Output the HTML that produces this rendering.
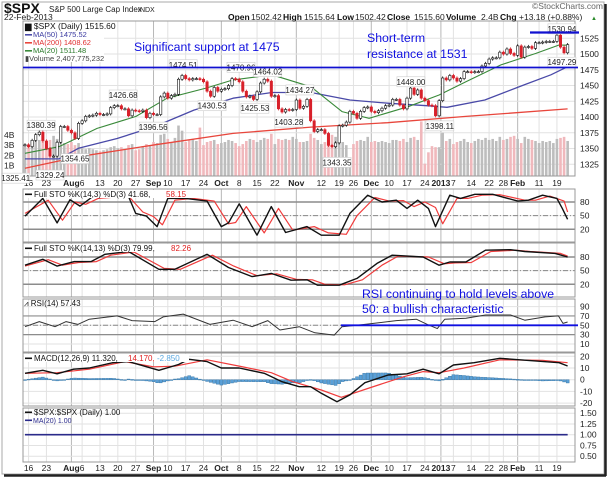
<!DOCTYPE html>
<html><head><meta charset="utf-8"><style>
body{margin:0;background:#fff}
svg{display:block;font-family:"Liberation Sans",sans-serif}
</style></head><body>
<svg id="c" width="609" height="479" viewBox="0 0 609 479" xmlns="http://www.w3.org/2000/svg">
<rect x="0" y="0" width="609" height="479" fill="#fff"/>
<g id="grid"></g><g id="marks"></g><g id="over"></g>
</svg>
<script>
// ---------- data ----------
const closes=[1356,
1353,1363,1372,1376,1362, 1350,1338,1338,1360,1385, 1385,1379,1375,1366,1390,
1394,1401,1402,1403,1406, 1404,1404,1405,1415,1418, 1418,1413,1413,1402,1411,
1410,1409,1411,1399,1406, 1404,1404,1432,1438,
1430,1434,1436,1460,1466, 1461,1459,1461,1461,1460, 1456,1441,1433,1447,1441,
1444,1445,1450,1461,1460, 1456,1441,1432,1433,1428, 1440,1454,1460,1457,1433,
1434,1413,1408,1412,1411, 1412, 1427,1414,
1417,1428,1394,1377,1380, 1380,1374,1355,1353,1359, 1386,1387,1392,1409,
1406,1398,1409,1415,1416, 1409,1407,1410,1414,1418, 1419,1428,1428,1419,1413,
1430,1446,1436,1443,1430, 1426,1419,1418,1402, 1426, 1462,1459,1466,
1462,1457,1461,1472,1472, 1471,1472,1472,1481,1485, 1492,1494,1494,1503,
1500,1508,1501,1498,1513, 1495,1511,1512,1509,1518, 1518,1519,1520,1520,1520,
1530,1511,1502,1515];
const volumes=[3.0,
2.9,3.2,3.4,3.5,3.3, 3.1,3.5,3.9,3.6,3.7, 3.2,3.1,3.3,3.0,3.2,
2.7,2.6,2.7,2.6,2.5, 2.4,2.5,2.6,2.8,2.9, 2.7,2.8,2.6,3.0,3.1,
2.5,2.6,2.9,3.1,3.0, 3.3,3.2,4.0,4.1,
3.6,3.3,3.7,4.9,4.4, 3.3,3.5,3.6,3.4,4.7, 3.0,3.3,3.4,3.5,3.1,
3.2,3.3,3.5,3.4,3.2, 2.9,3.1,3.4,3.6,3.5, 3.3,3.5,3.7,3.6,4.1,
3.1,3.6,3.5,3.6,3.5, 3.8, 3.6,3.3,
3.3,3.4,4.1,3.7,3.5, 3.1,3.3,3.8,4.0,3.8, 3.5,3.3,3.0,1.4,
3.1,3.4,3.5,3.4,3.8, 3.3,3.4,3.3,3.4,3.3, 3.2,3.5,3.5,3.4,3.6,
3.3,3.7,3.8,3.5,5.3, 1.2,2.3,2.9,2.8, 2.8, 4.2,3.4,3.6,
3.1,3.3,3.4,3.6,3.3, 3.2,3.4,3.6,3.5,3.7, 3.5,3.6,3.4,3.8,
3.5,3.6,3.8,3.9,3.6, 3.2,3.8,3.6,3.5,3.4, 3.2,3.4,3.3,3.4,3.2,
3.6,3.7,3.8,3.4];
const ma50Idx=[0,9.5,15,25.8,36.4,47.3,58.3,69.2,80.1,91,101.6,112.5,118.2,128.8,139.8,147.3,152];
const ma50Val=[1333.5,1333.5,1350.4,1366,1385,1411,1430,1439,1439,1427,1422,1418,1415.5,1427,1451,1467,1480];
const ma200Idx=[0,15,36.4,58.3,80.1,101.6,123.5,152];
const ma200Val=[1318.6,1337,1356,1374,1384,1391,1401,1413];
const ma20Idx=[0,9.5,20.2,31.1,39.8,50.7,58.3,69.2,80.1,88.8,96.4,107.3,116,123.5,133.3,143.1,149.6,152];
const ma20Val=[1342.5,1353,1382,1401,1430,1446,1459,1467,1448,1408.6,1398,1416.5,1435,1456,1482.7,1501,1514.4,1514];
const priceTicks=[1525,1500,1475,1450,1425,1400,1375,1350,1325];
const volTicks=[1,2,3,4];
const annLabels=["1380.39","1329.24","1325.41","1354.65","1426.68","1396.56","1474.51","1430.53","1470.96","1425.53","1464.02","1434.27","1403.28","1343.35","1448.00","1398.11","1530.94","1497.29"];
const annIdx=[4.5,7,-2.6,14,27.5,35.9,44.3,52.4,60.5,64.4,68,77,73.9,87.4,108.1,116.2,150.4,150.4];
const annVal=[1387,1308,1303,1334,1435,1384,1483,1418,1479,1414,1472,1443,1392,1328,1456,1386,1540,1487];
const stoKIdx=[0,5,9,12.6,15.4,19,22,25,29,31,34,37,40,45,51,55,57,60,65,69,73,79,83,88,91,96,100,104,107,110,113,115,119,122,126,131,138,141,145,149,150.5,152];
const stoKVal=[49,88,34,85,71,92,95,95,92,55,49,26,88,88,82,26,34,76,7,70,13,26,7,7,55,95,80,84,66,84,66,26,95,88,97,97,82,84,95,88,66,42];
const stoDIdx=[0,6.5,10.5,14,17,20.5,29,33,36,38.5,42,47,53,57,59,62,67,71,75,81,85,90,93,98,102,106,109,112,115,117,121,124,128,133,140,143,147,151,152];
const stoDVal=[55,84,40,80,75,88,93,58,48,30,84,88,82,32,35,70,12,66,18,26,12,9,50,90,82,83,70,80,68,32,88,88,95,96,84,84,93,82,58];
const sto2KIdx=[0,5,9,13.8,18.5,22.4,29,37.5,42,51,57,63.6,69,74.5,79,82,88,93,98.6,102.8,111.5,116,119,123.5,129,136,140,148.5,152];
const sto2KVal=[62,75,60,70,70,86,92,53,53,86,57,37,44,29,30,18,18,33,66,84,80,62,69,69,95,96,92,88,80];
const sto2DIdx=[0,6.5,10.5,15,20,24,30.5,39,43.5,52.5,58.5,65,70.5,76,80.5,84,89.5,94.5,100,104.5,113,117.5,120.5,125,130.5,137.5,141.5,150,152];
const sto2DVal=[60,74,62,68,70,84,91,55,53,84,60,39,43,31,30,20,19,30,62,82,80,65,67,68,92,95,92,88,82];
const rsiIdx=[0,4,8.4,11.5,14.8,18,25.8,30,36.4,38.7,44.3,51.8,58.3,63.6,68,71.4,76.8,81.2,86.6,88.8,95.2,104,109.6,112.7,115.5,117.6,123.5,129,136,140,145.7,149.4,150.7,152];
const rsiVal=[47,58,47,58,52,63,70,60,58,68,74,52,61,47,60,40,47,34,29,47,52,60,63,52,43,63,65,72,72,61,68,70,54,57];
const macdIdx=[0,5,9,13.6,18,24.6,29,37.5,43,46,51,55,60,67,72,76.8,80,83,87.4,91,95.2,101.7,107,111.5,116,120,125.8,133,138.6,149.6,152];
const macdVal=[5.5,8,5,9,10,14.5,15.5,8,13,17.4,15.5,10,10,5.5,-1.7,-6,-6,-11.6,-18.8,-13,-2.6,4,5,9,5,12.6,14.5,18.3,17,14.5,11.7];
const sigIdx=[0,9,18,28,36,42,51,60,69,75,83,88.6,96,106,111.5,116,123,133,145,152];
const sigVal=[5.5,6,9,15.5,11,11.5,17,11.6,6,-1.7,-8.8,-15,-7.5,2.5,6.9,6,10,17,16.6,14.5];
const ratioVal=[1.00,1.00];
const xLabels=["16","23","Aug","6","13","20","27","Sep","10","17","24","Oct","8","15","22","Nov","12","19","26","Dec","10","17","24","2013","7","14","22","28","Feb","11","19"];
const xLabelIdx=[1,6,13,16,21,26,31,36,40,45,50,55,60,65,70,76,83,88,92,97,102,107,112,116.5,120,125,130,134,138,144,149];
const monthLabels=["Aug","Sep","Oct","Nov","Dec","2013","Feb"];

// ---------- helpers ----------
const NS="http://www.w3.org/2000/svg";
const G=document.getElementById('grid'),M=document.getElementById('marks'),O=document.getElementById('over');
function el(t,a,p){const e=document.createElementNS(NS,t);for(const k in a)e.setAttribute(k,a[k]);(p||M).appendChild(e);return e;}
const L=23,R=575;
const X=i=>25+i*3.57;
const yP=p=>38.3+(1525-p)*0.63;
const yV=v=>176-v*10.3;
const panels=[
 {name:'main',top:21,bot:176},
 {name:'sto1',top:189,bot:242,y:v=>229.3-(v-20)*0.455,ticks:[80,50,20]},
 {name:'sto2',top:243,bot:297,y:v=>284.3-(v-20)*0.455,ticks:[80,50,20]},
 {name:'rsi',top:299,bot:352,y:v=>325.3-(v-50)*0.4675,ticks:[90,70,50,30,10]},
 {name:'macd',top:353,bot:406,y:v=>379.7-v*1.17,ticks:[20,10,0,-10,-20]},
 {name:'ratio',top:408,bot:462,y:v=>434.7-(v-1)*43,ticks:[1.5,1.25,1.0,0.75,0.5]}
];
const defs=el('defs',{},document.getElementById('c'));
panels.forEach(p=>{const cp=el('clipPath',{id:'cp-'+p.name},defs);el('rect',{x:L,y:p.top,width:R-L,height:p.bot-p.top},cp);});

panels.forEach(p=>{
  xLabelIdx.forEach((ix,k)=>{
    const g=el('line',{x1:X(ix),x2:X(ix),y1:p.top,y2:p.bot,stroke:monthLabels.includes(xLabels[k])?'#b8b8b8':'#e2e2e2','stroke-width':1},G);
    
    
  });
  const tks=p.name==='main'?priceTicks:p.ticks;
  const yf=p.name==='main'?yP:p.y;
  tks.forEach(t=>{
    const y=yf(t);
    const gl=el('line',{x1:L,x2:R,y1:y,y2:y,stroke:'#e2e2e2'},G);
    
    
    const tx=el('text',{x:580,y:y+3,'font-size':8.5,fill:'#222'},O);
    tx.textContent=p.name==='ratio'?t.toFixed(2):String(t);
    
    
  });
  const fr=el('rect',{x:L,y:p.top,width:R-L,height:p.bot-p.top,fill:'none',stroke:'#999'},O);
  
  
});
volTicks.forEach(v=>{const t=el('text',{x:4,y:yV(v)+3,'font-size':8.5,fill:'#222'},O);t.textContent=v+'B';
  });

[183,468].forEach(yy=>{
  xLabels.forEach((s,k)=>{
    const b=monthLabels.includes(s);
    const t=el('text',{x:X(xLabelIdx[k]),y:yy+3,'font-size':8.5,'text-anchor':'middle',fill:'#222','font-weight':b?'bold':'normal'},O);
    t.textContent=s;
    
    
  });
});

const mg=el('g',{'clip-path':'url(#cp-main)'});
volumes.forEach((v,i)=>{
  const down=i>0&&closes[i]<closes[i-1];
  const b=el('rect',{x:X(i)-1.3,y:yV(v),width:2.6,height:176-yV(v),fill:down?'#f0b8bc':'#bdbdbd'},mg);
  
  
});
function poly(idx,val,yf,col,w,parent,name){
  const pts=idx.map((ix,k)=>X(ix).toFixed(1)+','+yf(val[k]).toFixed(1)).join(' ');
  const e=el('polyline',{points:pts,fill:'none',stroke:col,'stroke-width':w,'stroke-linejoin':'round'},parent);
  
  
  return e;
}
poly(ma200Idx,ma200Val,yP,'#e8463c',1.3,mg,'ma200-line');
poly(ma50Idx,ma50Val,yP,'#4a4aa8',1.3,mg,'ma50-line');
poly(ma20Idx,ma20Val,yP,'#3a8a3a',1.1,mg,'ma20-line');
closes.forEach((c,i)=>{
  const o=i>0?closes[i-1]:c;
  const down=c<o;
  const col=down?'#d8202a':'#111';
  const hi=Math.max(o,c)+2.5,lo=Math.min(o,c)-2.5;
  const w=el('line',{x1:X(i),x2:X(i),y1:yP(hi),y2:yP(lo),stroke:col,'stroke-width':0.8},mg);
  
  
  const top=yP(Math.max(o,c)),h=Math.max(1,Math.abs(yP(o)-yP(c)));
  const b=el('rect',{x:X(i)-1.2,y:top,width:2.4,height:h,fill:down?col:'#fff',stroke:col,'stroke-width':0.6},mg);
  
  
});
annLabels.forEach((s,k)=>{
  const x=X(annIdx[k]),y=yP(annVal[k]);
  const r=el('rect',{x:x-14,y:y-5,width:28,height:10,fill:'#fff',stroke:'#ccc','stroke-width':0.6},O);
  
  
  const t=el('text',{x:x,y:y+3,'font-size':8,'text-anchor':'middle',fill:'#222'},O);
  t.textContent=s;
  
  
});

function lines(pname){
  const p=panels.find(q=>q.name===pname);
  const g=el('g',{'clip-path':'url(#cp-'+pname+')'});
  return [p,g];
}
[['sto1',stoKIdx,stoKVal,stoDIdx,stoDVal],['sto2',sto2KIdx,sto2KVal,sto2DIdx,sto2DVal]].forEach(([n,ki,kv,di,dv])=>{
  const [p,g]=lines(n);
  [80,20].forEach(t=>el('line',{x1:L,x2:R,y1:p.y(t),y2:p.y(t),stroke:'#8c8c8c','stroke-width':1.5},g));
  el('line',{x1:L,x2:R,y1:p.y(50),y2:p.y(50),stroke:'#888','stroke-dasharray':'5,2,1,2'},g);
  poly(di,dv,p.y,'#f03c3c',1.2,g,n+'-d-line');
  poly(ki,kv,p.y,'#111',1.4,g,n+'-k-line');
});
(function(){
  const [p,g]=lines('rsi');
  [70,30].forEach(t=>el('line',{x1:L,x2:R,y1:p.y(t),y2:p.y(t),stroke:'#8c8c8c','stroke-width':1.2},g));
  el('line',{x1:L,x2:R,y1:p.y(50),y2:p.y(50),stroke:'#888','stroke-dasharray':'5,2,1,2'},g);
  poly(rsiIdx,rsiVal,p.y,'#333',1,g,'rsi-line');
  const bl=el('line',{x1:X(88.5),x2:578,y1:p.y(50),y2:p.y(50),stroke:'#1010e0','stroke-width':1.8},O);
  
  
})();
function interp(idx,val,i){for(let k=1;k<idx.length;k++){if(i<=idx[k]){const t=(i-idx[k-1])/(idx[k]-idx[k-1]);return val[k-1]+t*(val[k]-val[k-1]);}}return val[val.length-1];}
(function(){
  const [p,g]=lines('macd');
  for(let i=0;i<closes.length;i++){
    const h=interp(macdIdx,macdVal,i)-interp(sigIdx,sigVal,i);
    const y0=p.y(0),y1=p.y(h);
    const b=el('rect',{x:X(i)-1.5,y:Math.min(y0,y1),width:3,height:Math.max(0.8,Math.abs(y1-y0)),fill:'#5aa0d8',stroke:'#2f6f9f','stroke-width':0.4},g);
    
    
  }
  poly(sigIdx,sigVal,p.y,'#f03c3c',1.2,g,'macd-signal-line');
  poly(macdIdx,macdVal,p.y,'#111',1.4,g,'macd-line');
})();
(function(){
  const [p,g]=lines('ratio');
  poly([0,152],ratioVal,p.y,'#111',1,g,'ratio-line');
  poly([0,152],ratioVal,p.y,'#2a2a8a',1.6,g,'ratio-ma20-line');
})();

const sl=el('line',{x1:L,x2:578,y1:67.5,y2:67.5,stroke:'#1010d0','stroke-width':1.8},O);

const rl=el('line',{x1:530,x2:579,y1:32.5,y2:32.5,stroke:'#1010d0','stroke-width':2.2},O);

</script>
<script>
(function(){
const NS="http://www.w3.org/2000/svg";
const O=document.getElementById('over');
function T(x,y,s,o,name){const t=document.createElementNS(NS,'text');t.setAttribute('x',x);t.setAttribute('y',y);
 for(const k in o)t.setAttribute(k,o[k]);t.textContent=s;
 
 
 O.appendChild(t);return t;}
function B(x,y,w,h,name){const r=document.createElementNS(NS,'rect');r.setAttribute('x',x);r.setAttribute('y',y);r.setAttribute('width',w);r.setAttribute('height',h);r.setAttribute('fill','#fff');
 
 
 O.appendChild(r);}
function SW(x,y,c,name){const r=document.createElementNS(NS,'rect');r.setAttribute('x',x);r.setAttribute('y',y);r.setAttribute('width',7);r.setAttribute('height',1.6);r.setAttribute('fill',c);
 
 
 O.appendChild(r);}
T(4,13,'$SPX',{'font-size':14,'font-weight':'bold',fill:'#111'},'ticker-title');
T(49,12,'S&P 500 Large Cap Index',{'font-size':8,fill:'#222'},'index-name');
T(138,12,'INDX',{'font-size':7,fill:'#222'},'exchange-label');
T(4,20,'22-Feb-2013',{'font-size':8.5,fill:'#222'},'date-label');
T(603,9,'©StockCharts.com',{'font-size':8.5,fill:'#666','text-anchor':'end'},'watermark');
T(228,20,'Open',{'font-size':8.5,'font-weight':'bold',fill:'#111'},'open-label');
T(251,20,'1502.42',{'font-size':8.5,fill:'#222'},'open-value');
T(283,20,'High',{'font-size':8.5,'font-weight':'bold',fill:'#111'},'high-label');
T(304,20,'1515.64',{'font-size':8.5,fill:'#222'},'high-value');
T(337,20,'Low',{'font-size':8.5,'font-weight':'bold',fill:'#111'},'low-label');
T(355,20,'1502.42',{'font-size':8.5,fill:'#222'},'low-value');
T(387,20,'Close',{'font-size':8.5,'font-weight':'bold',fill:'#111'},'close-label');
T(414,20,'1515.60',{'font-size':8.5,fill:'#222'},'close-value');
T(446,20,'Volume',{'font-size':8.5,'font-weight':'bold',fill:'#111'},'volume-label');
T(481,20,'2.4B',{'font-size':8.5,fill:'#222'},'volume-value');
T(500,20,'Chg',{'font-size':8.5,'font-weight':'bold',fill:'#111'},'change-label');
T(519,20,'+13.18 (+0.88%)',{'font-size':8.5,fill:'#222'},'change-value');
T(591,20,'▲',{'font-size':6,fill:'#2a8a2a'},'up-arrow');
B(24,22,80,40,'main-legend-bg');
T(25,29,'▆ $SPX (Daily) 1515.60',{'font-size':8.5,fill:'#111'},'legend-spx');
SW(25,34,'#4a4aa8','legend-ma50-swatch');T(33,37,'MA(50) 1475.52',{'font-size':7.5,fill:'#3a3aa0'},'legend-ma50');
SW(25,42,'#e8463c','legend-ma200-swatch');T(33,45,'MA(200) 1408.62',{'font-size':7.5,fill:'#e03030'},'legend-ma200');
SW(25,50,'#3a8a3a','legend-ma20-swatch');T(33,53,'MA(20) 1511.48',{'font-size':7.5,fill:'#2a7a2a'},'legend-ma20');
T(25,61,'▮Volume 2,407,775,232',{'font-size':7.5,fill:'#444'},'legend-volume');
B(24,190,172,8,'sto1-legend-bg');SW(25,193.5,'#111','sto1-swatch');
T(34,197,'Full STO %K(14,3) %D(3) 41.68,',{'font-size':8,fill:'#111'},'sto1-legend');
T(166,197,'58.15',{'font-size':8,fill:'#e02020'},'sto1-legend-d');
B(24,244,172,8,'sto2-legend-bg');SW(25,247.5,'#111','sto2-swatch');
T(34,251,'Full STO %K(14,13) %D(3) 79.99,',{'font-size':8,fill:'#111'},'sto2-legend');
T(171,251,'82.26',{'font-size':8,fill:'#e02020'},'sto2-legend-d');
T(24,306,'⩘ RSI(14) 57.43',{'font-size':8,fill:'#111'},'rsi-legend');
B(24,354,165,8,'macd-legend-bg');SW(25,357.5,'#111','macd-swatch');
T(34,361,'MACD(12,26,9) 11.320,',{'font-size':8,fill:'#111'},'macd-legend');
T(128,361,'14.170,',{'font-size':8,fill:'#e02020'},'macd-legend-signal');
T(157,361,'-2.850',{'font-size':8,fill:'#5aa8e0'},'macd-legend-hist');
SW(25,411.5,'#111','ratio-swatch');
T(34,415,'$SPX:$SPX (Daily) 1.00',{'font-size':8,fill:'#111'},'ratio-legend');
SW(25,419.5,'#2a2a8a','ratio-ma-swatch');
T(33,423,'MA(20) 1.00',{'font-size':7,fill:'#2a2a8a'},'ratio-ma-legend');
T(134,51,'Significant support at 1475',{'font-size':12.3,fill:'#1010e0'},'support-annotation');
T(367,42,'Short-term',{'font-size':12.3,fill:'#1010e0'},'resistance-annotation-1');
T(367,58,'resistance at 1531',{'font-size':12.3,fill:'#1010e0'},'resistance-annotation-2');
T(362,298,'RSI continuing to hold levels above',{'font-size':12.3,fill:'#1010e0'},'rsi-annotation-1');
T(362,313,'50: a bullish characteristic',{'font-size':12.3,fill:'#1010e0'},'rsi-annotation-2');
const f=document.createElementNS(NS,'rect');f.setAttribute('x',2);f.setAttribute('y',2);f.setAttribute('width',602);f.setAttribute('height',472);f.setAttribute('fill','none');f.setAttribute('stroke','#aaa');
O.appendChild(f);
const s1=document.createElementNS(NS,'line');s1.setAttribute('x1',605.5);s1.setAttribute('x2',605.5);s1.setAttribute('y1',4);s1.setAttribute('y2',476);s1.setAttribute('stroke','#222');s1.setAttribute('stroke-width',2.5);
O.appendChild(s1);
const s2=document.createElementNS(NS,'line');s2.setAttribute('x1',4);s2.setAttribute('x2',606);s2.setAttribute('y1',475.5);s2.setAttribute('y2',475.5);s2.setAttribute('stroke','#222');s2.setAttribute('stroke-width',2.5);
O.appendChild(s2);
})();
</script>
</body></html>
